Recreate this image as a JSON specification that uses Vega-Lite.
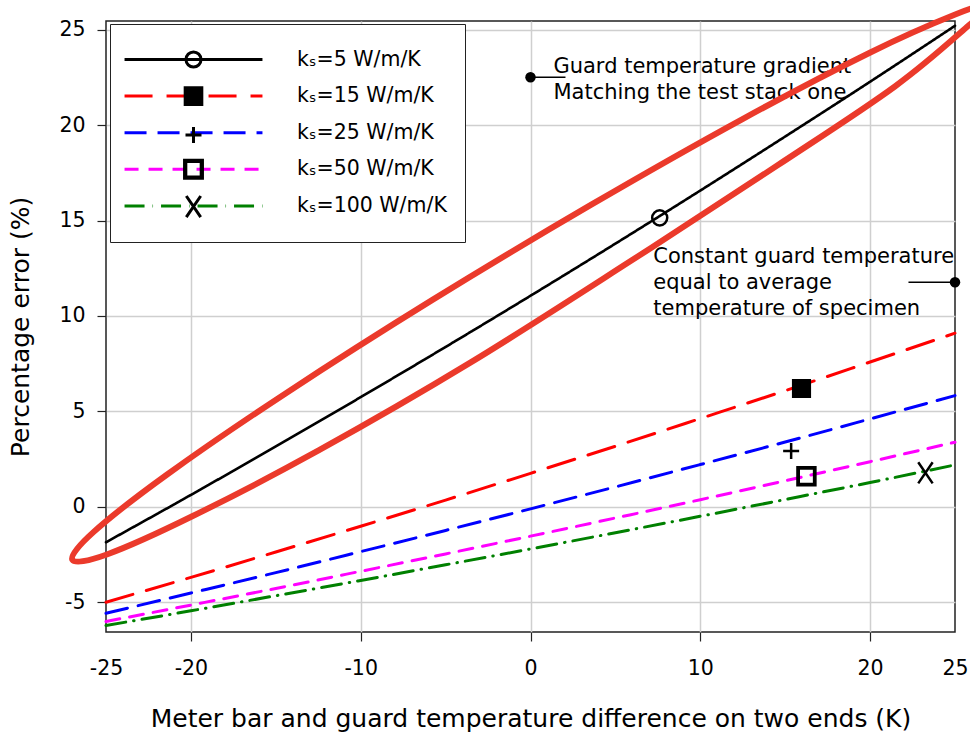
{
  "$schema": "https://vega.github.io/schema/vega-lite/v6.json",
  "width": 849,
  "height": 611,
  "autosize": {"type": "none"},
  "padding": {"left": 106, "top": 21, "right": 15, "bottom": 102},
  "background": "white",
  "config": {
    "font": "DejaVu Sans",
    "view": {"stroke": "#222222", "strokeWidth": 1.5},
    "axis": {
      "labelFont": "DejaVu Sans",
      "labelFontSize": 20.5,
      "labelColor": "black",
      "titleFont": "DejaVu Sans",
      "titleFontSize": 25,
      "titleFontWeight": "normal",
      "titleColor": "black",
      "gridColor": "#cfcfcf",
      "gridWidth": 1.5,
      "domain": false,
      "tickColor": "#222222",
      "tickSize": 9,
      "tickWidth": 1.2,
      "labelFlush": false,
      "labelOverlap": false,
      "labelExpr": "replace(datum.label, '−', '-')"
    }
  },
  "datasets": {
    "series": [
      {"ks": "kₛ=5 W/m/K", "x": -25, "y": -1.85},
      {"ks": "kₛ=5 W/m/K", "x": -20, "y": 0.63},
      {"ks": "kₛ=5 W/m/K", "x": -15, "y": 3.17},
      {"ks": "kₛ=5 W/m/K", "x": -10, "y": 5.75},
      {"ks": "kₛ=5 W/m/K", "x": -5, "y": 8.38},
      {"ks": "kₛ=5 W/m/K", "x": 0, "y": 11.06},
      {"ks": "kₛ=5 W/m/K", "x": 5, "y": 13.79},
      {"ks": "kₛ=5 W/m/K", "x": 10, "y": 16.57},
      {"ks": "kₛ=5 W/m/K", "x": 15, "y": 19.4},
      {"ks": "kₛ=5 W/m/K", "x": 20, "y": 22.27},
      {"ks": "kₛ=5 W/m/K", "x": 25, "y": 25.2},
      {"ks": "kₛ=15 W/m/K", "x": -25, "y": -4.99},
      {"ks": "kₛ=15 W/m/K", "x": -20, "y": -3.69},
      {"ks": "kₛ=15 W/m/K", "x": -15, "y": -2.36},
      {"ks": "kₛ=15 W/m/K", "x": -10, "y": -1.01},
      {"ks": "kₛ=15 W/m/K", "x": -5, "y": 0.36},
      {"ks": "kₛ=15 W/m/K", "x": 0, "y": 1.76},
      {"ks": "kₛ=15 W/m/K", "x": 5, "y": 3.18},
      {"ks": "kₛ=15 W/m/K", "x": 10, "y": 4.63},
      {"ks": "kₛ=15 W/m/K", "x": 15, "y": 6.09},
      {"ks": "kₛ=15 W/m/K", "x": 20, "y": 7.59},
      {"ks": "kₛ=15 W/m/K", "x": 25, "y": 9.1},
      {"ks": "kₛ=25 W/m/K", "x": -25, "y": -5.57},
      {"ks": "kₛ=25 W/m/K", "x": -20, "y": -4.51},
      {"ks": "kₛ=25 W/m/K", "x": -15, "y": -3.44},
      {"ks": "kₛ=25 W/m/K", "x": -10, "y": -2.34},
      {"ks": "kₛ=25 W/m/K", "x": -5, "y": -1.23},
      {"ks": "kₛ=25 W/m/K", "x": 0, "y": -0.1},
      {"ks": "kₛ=25 W/m/K", "x": 5, "y": 1.05},
      {"ks": "kₛ=25 W/m/K", "x": 10, "y": 2.22},
      {"ks": "kₛ=25 W/m/K", "x": 15, "y": 3.4},
      {"ks": "kₛ=25 W/m/K", "x": 20, "y": 4.61},
      {"ks": "kₛ=25 W/m/K", "x": 25, "y": 5.83},
      {"ks": "kₛ=50 W/m/K", "x": -25, "y": -6.0},
      {"ks": "kₛ=50 W/m/K", "x": -20, "y": -5.14},
      {"ks": "kₛ=50 W/m/K", "x": -15, "y": -4.27},
      {"ks": "kₛ=50 W/m/K", "x": -10, "y": -3.37},
      {"ks": "kₛ=50 W/m/K", "x": -5, "y": -2.46},
      {"ks": "kₛ=50 W/m/K", "x": 0, "y": -1.53},
      {"ks": "kₛ=50 W/m/K", "x": 5, "y": -0.58},
      {"ks": "kₛ=50 W/m/K", "x": 10, "y": 0.38},
      {"ks": "kₛ=50 W/m/K", "x": 15, "y": 1.37},
      {"ks": "kₛ=50 W/m/K", "x": 20, "y": 2.37},
      {"ks": "kₛ=50 W/m/K", "x": 25, "y": 3.39},
      {"ks": "kₛ=100 W/m/K", "x": -25, "y": -6.21},
      {"ks": "kₛ=100 W/m/K", "x": -20, "y": -5.44},
      {"ks": "kₛ=100 W/m/K", "x": -15, "y": -4.65},
      {"ks": "kₛ=100 W/m/K", "x": -10, "y": -3.85},
      {"ks": "kₛ=100 W/m/K", "x": -5, "y": -3.03},
      {"ks": "kₛ=100 W/m/K", "x": 0, "y": -2.2},
      {"ks": "kₛ=100 W/m/K", "x": 5, "y": -1.35},
      {"ks": "kₛ=100 W/m/K", "x": 10, "y": -0.49},
      {"ks": "kₛ=100 W/m/K", "x": 15, "y": 0.39},
      {"ks": "kₛ=100 W/m/K", "x": 20, "y": 1.28},
      {"ks": "kₛ=100 W/m/K", "x": 25, "y": 2.2}
    ],
    "markers": [
      {"k": "5", "x": 7.61, "y": 15.14},
      {"k": "15", "x": 15.96, "y": 6.2},
      {"k": "25", "x": 15.35, "y": 3.06},
      {"k": "50", "x": 16.25, "y": 1.61},
      {"k": "100", "x": 23.26, "y": 1.82}
    ],
    "ellipse": [
      {"i": 0, "x": 26.94, "y": 26.26},
      {"i": 1, "x": 25.8, "y": 25.21},
      {"i": 2, "x": 21.46, "y": 22.02},
      {"i": 3, "x": 14.53, "y": 17.88},
      {"i": 4, "x": 5.85, "y": 12.85},
      {"i": 5, "x": -3.52, "y": 7.57},
      {"i": 6, "x": -12.48, "y": 2.96},
      {"i": 7, "x": -19.92, "y": -0.49},
      {"i": 8, "x": -24.95, "y": -2.49},
      {"i": 9, "x": -26.98, "y": -2.77},
      {"i": 10, "x": -25.74, "y": -1.32},
      {"i": 11, "x": -21.4, "y": 1.7},
      {"i": 12, "x": -14.47, "y": 5.92},
      {"i": 13, "x": -5.8, "y": 10.83},
      {"i": 14, "x": 3.58, "y": 15.83},
      {"i": 15, "x": 12.54, "y": 20.34},
      {"i": 16, "x": 19.98, "y": 23.79},
      {"i": 17, "x": 25.01, "y": 25.79}
    ],
    "callouts": [
      {"x": 0, "x2": 2.06, "y": 22.5},
      {"x": 25, "x2": 22.26, "y": 11.77}
    ],
    "notes": [
      {"x": 1.35, "y": 22.73, "label": ["Guard temperature gradient", "Matching the test stack one"]},
      {"x": 7.23, "y": 12.79, "label": ["Constant guard temperature", "equal to average", "temperature of specimen"]}
    ]
  },
  "layer": [
    {
      "data": {"name": "series"},
      "mark": {"type": "line", "interpolate": "monotone", "strokeCap": "round"},
      "encoding": {
        "x": {
          "field": "x",
          "type": "quantitative",
          "scale": {"domain": [-25, 25], "nice": false, "zero": false},
          "axis": {
            "values": [-25, -20, -10, 0, 10, 20, 25],
            "title": "Meter bar and guard temperature difference on two ends (K)",
            "labelPadding": 17,
            "tickOpacity": {"condition": {"test": "abs(datum.value) === 25", "value": 0}, "value": 1},
            "gridOpacity": {"condition": {"test": "abs(datum.value) === 25", "value": 0}, "value": 1},
            "titleBaseline": "alphabetic",
            "titleY": 94
          }
        },
        "y": {
          "field": "y",
          "type": "quantitative",
          "scale": {"domain": [-6.55, 25.45], "nice": false, "zero": false},
          "axis": {
            "values": [-5, 0, 5, 10, 15, 20, 25],
            "title": "Percentage error (%)",
            "labelPadding": 12,
            "titleX": -78,
            "titleBaseline": "alphabetic"
          }
        },
        "color": {
          "field": "ks",
          "type": "nominal",
          "scale": {
            "domain": ["kₛ=5 W/m/K", "kₛ=15 W/m/K", "kₛ=25 W/m/K", "kₛ=50 W/m/K", "kₛ=100 W/m/K"],
            "range": ["#000000", "#ff0000", "#0000ff", "#ff00ff", "#008000"]
          },
          "legend": {
            "orient": "none", "legendX": 4, "legendY": 3, "title": null,
            "padding": 18, "strokeColor": "#222222", "fillColor": "white",
            "symbolType": "M-4.31,0H4.31M0,-1M0,0.7", "symbolSize": 1024, "symbolStrokeWidth": 3,
            "symbolOffset": 48, "labelOffset": 86, "labelFont": "DejaVu Sans",
            "labelFontSize": 20.5, "labelColor": "black", "labelLimit": 400, "rowPadding": -3.4
          }
        },
        "strokeDash": {
          "field": "ks",
          "type": "nominal",
          "scale": {
            "domain": ["kₛ=5 W/m/K", "kₛ=15 W/m/K", "kₛ=25 W/m/K", "kₛ=50 W/m/K", "kₛ=100 W/m/K"],
            "range": [[1, 0], [28, 14], [22, 11], [14, 10], [20, 8, 0.5, 8]]
          },
          "legend": {
            "orient": "none", "legendX": 4, "legendY": 3, "title": null,
            "padding": 18, "strokeColor": "#222222", "fillColor": "white",
            "symbolType": "M-4.31,0H4.31M0,-1M0,0.7", "symbolSize": 1024, "symbolStrokeWidth": 3,
            "symbolOffset": 48, "labelOffset": 86, "labelFont": "DejaVu Sans",
            "labelFontSize": 20.5, "labelColor": "black", "labelLimit": 400, "rowPadding": -3.4
          }
        },
        "strokeWidth": {"condition": {"test": "datum.ks === 'kₛ=5 W/m/K'", "value": 2.6}, "value": 3}
      }
    },
    {
      "data": {"name": "markers"},
      "mark": {"type": "point", "size": 1024, "strokeWidth": 2.5, "stroke": "black", "fill": "transparent", "opacity": 1},
      "encoding": {
        "x": {"field": "x", "type": "quantitative"},
        "y": {"field": "y", "type": "quantitative"},
        "shape": {
          "field": "k",
          "type": "nominal",
          "scale": {
            "domain": ["5", "15", "25", "50", "100"],
            "range": [
              "M-0.47,0A0.47,0.47,0,1,1,0.47,0A0.47,0.47,0,1,1,-0.47,0ZM0,-1M0,0.7",
              "M-0.52,-0.52H0.52V0.52H-0.52ZM-0.44,-0.44H0.44V0.44H-0.44ZM-0.36,-0.36H0.36V0.36H-0.36ZM-0.28,-0.28H0.28V0.28H-0.28ZM-0.2,-0.2H0.2V0.2H-0.2ZM-0.12,-0.12H0.12V0.12H-0.12ZM-0.04,-0.04H0.04V0.04H-0.04ZM0,-1M0,0.7",
              "M-0.5,0.15H0.5M0,-0.35V0.65M0,-1M0,0.7",
              "M-0.56,-0.56H0.56V0.56H-0.56ZM-0.48,-0.48H0.48V0.48H-0.48ZM0,-1M0,0.7",
              "M-0.45,-0.62L0.45,0.7M0.45,-0.62L-0.45,0.7M0,-1M0,0.7"
            ]
          },
          "legend": {
            "orient": "none", "legendX": 4, "legendY": 3, "title": null,
            "padding": 18, "symbolSize": 1024, "symbolStrokeWidth": 3,
            "symbolStrokeColor": "black", "symbolFillColor": "transparent", "symbolOpacity": 1,
            "symbolOffset": 48, "labelOffset": 86, "labelFont": "DejaVu Sans",
            "labelFontSize": 20.5, "labelExpr": "''", "labelOpacity": 0, "rowPadding": -3.4
          }
        }
      }
    },
    {
      "mark": {"type": "rule", "strokeDash": [23, 10], "strokeWidth": 3.5, "color": "black"},
      "encoding": {"y": {"datum": 0}}
    },
    {
      "mark": {"type": "rule", "strokeWidth": 2.2, "color": "black"},
      "encoding": {"x": {"datum": 0}, "y": {"datum": -7.3}, "y2": {"datum": 25.45}}
    },
    {
      "data": {"name": "callouts"},
      "mark": {"type": "rule", "strokeWidth": 1.5, "color": "black"},
      "encoding": {
        "x": {"field": "x", "type": "quantitative"},
        "x2": {"field": "x2"},
        "y": {"field": "y", "type": "quantitative"}
      }
    },
    {
      "data": {"name": "callouts"},
      "mark": {"type": "point", "filled": true, "size": 110, "color": "black", "opacity": 1},
      "encoding": {
        "x": {"field": "x", "type": "quantitative"},
        "y": {"field": "y", "type": "quantitative"}
      }
    },
    {
      "data": {"name": "notes"},
      "mark": {"type": "text", "align": "left", "baseline": "alphabetic", "font": "DejaVu Sans", "fontSize": 21, "lineHeight": 26, "color": "black"},
      "encoding": {
        "x": {"field": "x", "type": "quantitative"},
        "y": {"field": "y", "type": "quantitative"},
        "text": {"field": "label"}
      }
    },
    {
      "data": {"name": "ellipse"},
      "mark": {"type": "line", "interpolate": "cardinal-closed", "color": "#eb3a2b", "strokeWidth": 6},
      "encoding": {
        "x": {"field": "x", "type": "quantitative"},
        "y": {"field": "y", "type": "quantitative"},
        "order": {"field": "i", "type": "quantitative"}
      }
    }
  ]
}
